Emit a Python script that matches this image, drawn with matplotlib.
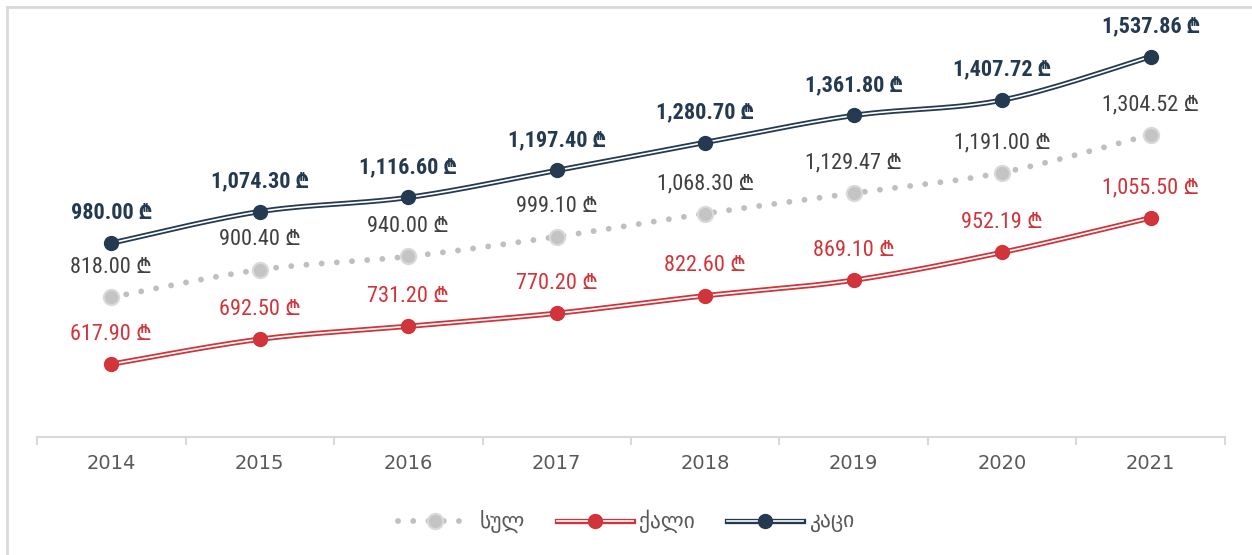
import numpy as np
import matplotlib
matplotlib.use("Agg")
import matplotlib.pyplot as plt
from matplotlib.lines import Line2D
from matplotlib.legend_handler import HandlerTuple

years = ["2014", "2015", "2016", "2017", "2018", "2019", "2020", "2021"]
total = [818.00, 900.40, 940.00, 999.10, 1068.30, 1129.47, 1191.00, 1304.52]
women = [617.90, 692.50, 731.20, 770.20, 822.60, 869.10, 952.19, 1055.50]
men = [980.00, 1074.30, 1116.60, 1197.40, 1280.70, 1361.80, 1407.72, 1537.86]
series_names = ["სულ", "ქალი", "კაცი"]

C_MEN = "#243a51"
C_WOMEN = "#d1343a"
C_TOTAL = "#bfbfbf"
C_TEXT = "#404040"
C_AXIS = "#d9d9d9"

LBL_FONT = ["Roboto Condensed", "Liberation Sans Narrow", "Roboto", "Inter"]


def smooth(xs, ys, n=30):
    xs = np.asarray(xs, float)
    ys = np.asarray(ys, float)
    P = np.column_stack([xs, ys])
    out = []
    for i in range(len(P) - 1):
        p0 = P[i - 1] if i > 0 else P[i]
        p1 = P[i]
        p2 = P[i + 1]
        p3 = P[i + 2] if i + 2 < len(P) else P[i + 1]
        c1 = p1 + (p2 - p0) / 6.0
        c2 = p2 - (p3 - p1) / 6.0
        t = np.linspace(0, 1, n)[:, None]
        seg = ((1 - t) ** 3) * p1 + 3 * ((1 - t) ** 2) * t * c1 + 3 * (1 - t) * t ** 2 * c2 + t ** 3 * p2
        out.append(seg if i == 0 else seg[1:])
    seg = np.vstack(out)
    return seg[:, 0], seg[:, 1]


fig = plt.figure(figsize=(12.52, 5.55), dpi=100)
ax = fig.add_axes([0.0296, 0.2126, 0.9488, 0.7229])
x = np.arange(len(years))

# total: dotted line
sx, sy = smooth(x, total)
ax.plot(sx, sy, color=C_TOTAL, lw=4.2, linestyle=(0, (0.01, 2.6)),
        dash_capstyle="round", solid_capstyle="round", zorder=2)
ax.plot(x, total, "o", color="#c4c4c4", markeredgecolor="#dadada",
        markeredgewidth=1.5, markersize=11, zorder=3)

# women / men: double lines
for vals, col in ((women, C_WOMEN), (men, C_MEN)):
    sx, sy = smooth(x, vals)
    ax.plot(sx, sy, color=col, lw=3.8, solid_capstyle="butt", zorder=4)
    ax.plot(sx, sy, color="white", lw=1.2, solid_capstyle="butt", zorder=5)
    ax.plot(x, vals, "o", color=col, markersize=10, zorder=6)


def fmt(v):
    return f"{v:,.2f} \u20be"


for i in range(len(x)):
    ax.annotate(fmt(total[i]), (x[i], total[i]), xytext=(0, 14), textcoords="offset points",
                ha="center", va="bottom", fontsize=16, color=C_TEXT, family=LBL_FONT, zorder=7)
    ax.annotate(fmt(women[i]), (x[i], women[i]), xytext=(0, 14), textcoords="offset points",
                ha="center", va="bottom", fontsize=16, color=C_WOMEN, family=LBL_FONT, zorder=7)
    ax.annotate(fmt(men[i]), (x[i], men[i]), xytext=(0, 14), textcoords="offset points",
                ha="center", va="bottom", fontsize=16, color=C_MEN, family=LBL_FONT,
                fontweight="bold", zorder=7)

ax.set_xlim(-0.5, len(years) - 0.5)
ax.set_ylim(400, 1600)
ax.set_yticks([])
for s in ("top", "right", "left"):
    ax.spines[s].set_visible(False)
ax.spines["bottom"].set_color(C_AXIS)
ax.spines["bottom"].set_linewidth(1.5)
ax.set_xticks(np.arange(-0.5, len(years) + 0.5, 1.0))
ax.set_xticklabels([])
ax.set_xticks(x, minor=True)
ax.set_xticklabels(years, minor=True)
ax.tick_params(axis="x", which="major", length=6, width=1.5, color=C_AXIS, direction="out")
ax.tick_params(axis="x", which="minor", length=0, pad=12, labelsize=14, labelcolor="#595959")
ax.patch.set_alpha(0)

# legend
h_total = (Line2D([], [], color=C_TOTAL, lw=4.2, linestyle=(0, (0.01, 2.6)), dash_capstyle="round"),
           Line2D([], [], marker="o", linestyle="none", color="#c4c4c4", markeredgecolor="#dadada",
                  markeredgewidth=1.5, markersize=11))
h_women = (Line2D([], [], color=C_WOMEN, lw=3.8), Line2D([], [], color="white", lw=1.2),
           Line2D([], [], marker="o", linestyle="none", color=C_WOMEN, markersize=10))
h_men = (Line2D([], [], color=C_MEN, lw=3.8), Line2D([], [], color="white", lw=1.2),
         Line2D([], [], marker="o", linestyle="none", color=C_MEN, markersize=10))
leg = fig.legend([h_total, h_women, h_men], series_names, loc="center", bbox_to_anchor=(0.5, 0.06),
                 ncol=3, frameon=False, handlelength=3.5, columnspacing=1.5,
                 handletextpad=0.3, handler_map={tuple: HandlerTuple(ndivide=1, pad=0)},
                 prop={"family": "DejaVu Sans", "size": 15.5})
for t in leg.get_texts():
    t.set_color("#595959")

# outer border (left and top)
fig.add_artist(Line2D([0.0056, 0.0056], [0, 0.987], color="#d9d9d9", lw=2, transform=fig.transFigure))
fig.add_artist(Line2D([0.0056, 1.0], [0.987, 0.987], color="#d9d9d9", lw=2, transform=fig.transFigure))

fig.savefig("out.png", dpi=100)
